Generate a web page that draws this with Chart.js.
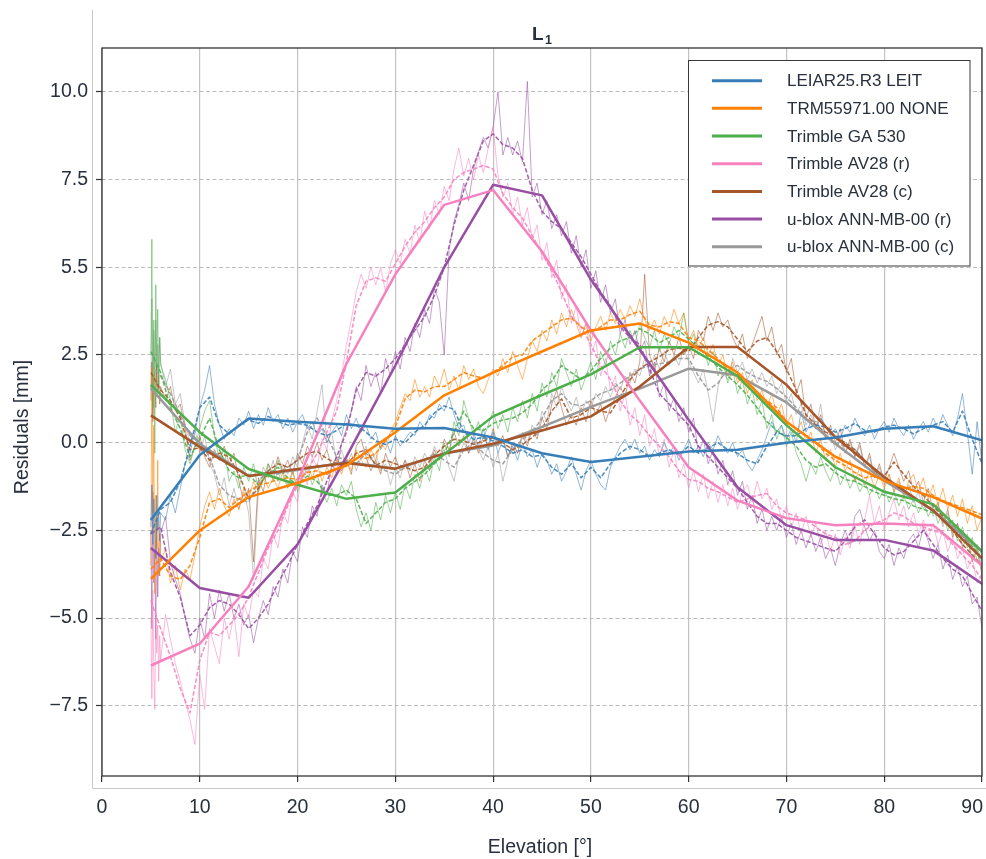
<!DOCTYPE html>
<html>
<head>
<meta charset="utf-8">
<script src="https://cdn.jsdelivr.net/npm/chart.js@4.4.1/dist/chart.umd.min.js"></script>
<style>
  html, body { margin: 0; padding: 0; background: #fff; }
</style>
</head>
<body>
<canvas id="chart" width="986" height="859"></canvas>
<script>
// ---- values (mm vs elevation in deg) ----
const antennaNames = [
  'LEIAR25.R3 LEIT', 'TRM55971.00 NONE', 'Trimble GA 530', 'Trimble AV28 (r)',
  'Trimble AV28 (c)', 'u-blox ANN-MB-00 (r)', 'u-blox ANN-MB-00 (c)'
];
const antennaColors = ['#377eb8', '#ff7f00', '#4daf4a', '#f781bf', '#a65628', '#984ea3', '#999999'];

const xTicks = [0, 10, 20, 30, 40, 50, 60, 70, 80, 90];
const yTicks = [-7.5, -5, -2.5, 0, 2.5, 5, 7.5, 10];
const yTickText = ['\u22127.5', '\u22125.0', '\u22122.5', '0.0', '2.5', '5.5', '7.5', '10.0'];

// thick lines: fit at 5 deg nodes
const fitElev = [5, 10, 15, 20, 25, 30, 35, 40, 45, 50, 55, 60, 65, 70, 75, 80, 85, 90];
const leiarFit  = [-2.2, -0.35, 0.69, 0.6, 0.52, 0.4, 0.42, 0.15, -0.3, -0.55, -0.4, -0.25, -0.2, 0.0, 0.15, 0.4, 0.47, 0.07];
const trmFit    = [-3.88, -2.5, -1.55, -1.15, -0.65, 0.3, 1.35, 2.0, 2.6, 3.2, 3.4, 2.85, 2.0, 0.6, -0.4, -1.08, -1.55, -2.16];
const ga530Fit  = [1.65, 0.3, -0.75, -1.2, -1.6, -1.42, -0.33, 0.75, 1.36, 1.95, 2.72, 2.72, 1.9, 0.5, -0.7, -1.4, -1.75, -3.1];
const av28rFit  = [-6.35, -5.73, -4.1, -1.1, 2.25, 4.8, 6.78, 7.2, 5.45, 3.2, 1.2, -0.7, -1.65, -2.15, -2.35, -2.3, -2.35, -3.5];
const av28cFit  = [0.78, -0.12, -0.95, -0.75, -0.58, -0.74, -0.31, -0.03, 0.35, 0.75, 1.6, 2.73, 2.73, 1.65, 0.16, -0.98, -1.93, -3.3];
const annrFit   = [-3.0, -4.14, -4.42, -2.9, -0.4, 2.2, 5.0, 7.35, 7.05, 4.65, 2.65, 0.65, -1.27, -2.35, -2.77, -2.77, -3.07, -4.02];
const anncFit   = [1.55, -0.03, -0.95, -0.78, -0.55, -0.74, -0.31, -0.08, 0.45, 1.02, 1.54, 2.11, 1.92, 1.15, -0.03, -1.08, -1.93, -3.1];

// dashed lines: smoothed, 1 deg steps from 5 to 90
const smoothElev = [];
for (let e = 5; e <= 90; e++) smoothElev.push(e);
const leiarSmooth = [
  -2.6, -1.9, -1.7, -1.1, -0.1, 1.0, 1.3, 0.5, 0.25, 0.5,
  0.65, 0.55, 0.75, 0.6, 0.5, 0.55, 0.5, 0.3, 0.2, 0.35,
  0.55, 0.5, 0.3, 0.05, -0.05, 0.1, 0.0, 0.3, 0.5, 0.85,
  1.05, 0.95, 0.3, 0.1, 0.15, 0.05, -0.1, -0.3, -0.2, -0.4,
  -0.35, -0.7, -0.9, -0.6, -1.0, -0.7, -1.0, -0.6, -0.3, -0.1,
  -0.2, -0.4, -0.3, -0.2, -0.35, -0.1, -0.3, -0.15, 0.0, -0.2,
  -0.3, -0.5, -0.6, -0.1, 0.3, 0.2, 0.2, 0.4, 0.5, 0.45,
  0.3, 0.4, 0.55, 0.35, 0.3, 0.45, 0.5, 0.4, 0.25, 0.4,
  0.5, 0.6, 0.3, 0.9, 0.1, -0.6
];
const trmSmooth = [
  -3.6, -3.3, -3.8, -3.9, -3.5, -2.7, -1.7, -1.6, -1.85, -1.6,
  -1.4, -1.2, -1.15, -1.05, -1.0, -1.05, -0.85, -0.8, -0.9, -0.75,
  -0.6, -0.35, -0.45, -0.3, 0.05, 0.45, 1.25, 1.5, 1.45, 1.6,
  1.6, 1.8, 2.0, 1.9, 1.85, 2.0, 2.2, 2.45, 2.5, 2.9,
  3.1, 3.3, 3.5, 3.55, 3.3, 3.15, 3.3, 3.5, 3.5, 3.65,
  3.75, 3.35, 3.3, 3.45, 3.4, 3.0, 2.9, 2.65, 2.4, 2.1,
  1.85, 1.6, 1.35, 1.2, 1.0, 0.6, 0.4, 0.2, 0.0, -0.3,
  -0.5, -0.65, -0.85, -1.0, -0.95, -1.05, -1.2, -1.3, -1.25, -1.3,
  -1.5, -1.65, -1.75, -1.85, -1.95, -2.05
];
const ga530Smooth = [
  2.6, 2.0, 1.0, 0.4, -0.4, 0.1, 0.7, -0.2, -0.8, -1.0,
  -0.9, -1.2, -0.9, -0.7, -1.0, -1.2, -0.95, -1.1, -1.5, -1.5,
  -1.35, -1.6, -2.3, -2.0, -1.7, -1.6, -1.3, -1.1, -0.9, -0.6,
  -0.3, 0.3, 0.9, 0.4, 0.35, 0.55, 0.65, 0.7, 0.85, 1.1,
  1.5, 1.75, 2.2, 2.0, 1.8, 2.05, 2.4, 2.7, 2.9, 3.0,
  3.25, 3.1, 2.85, 3.0, 3.2, 2.95, 2.7, 2.45, 2.15, 1.9,
  1.65, 1.35, 1.0, 0.6, 0.35, 0.15, -0.1, -0.5, -0.7, -0.6,
  -0.85, -1.05, -1.1, -1.25, -1.4, -1.5, -1.6, -1.65, -1.8, -1.9,
  -2.0, -2.15, -2.35, -2.65, -2.95, -3.3
];
const av28rSmooth = [
  -4.5, -5.3, -6.1, -7.0, -7.7, -6.2, -5.4, -5.5, -5.2, -4.9,
  -4.4, -3.7, -3.0, -2.5, -1.8, -1.2, -0.8, -0.3, 0.3, 0.9,
  2.3, 3.9, 4.6, 4.7, 4.6, 5.1, 5.6, 6.0, 6.3, 6.7,
  7.0, 7.5, 7.7, 7.8, 7.9, 7.8, 7.1, 6.7, 6.4, 5.9,
  5.4, 4.9, 4.3, 3.6, 3.3, 2.8, 2.2, 1.8, 1.2, 0.8,
  0.55, 0.2, -0.1, -0.4, -0.8, -1.05, -1.1, -1.3, -1.4, -1.55,
  -1.7, -1.6, -1.5, -1.45, -1.8, -2.0, -2.1, -2.2, -2.4, -2.6,
  -2.7, -2.9, -2.8, -2.5, -2.3, -2.2, -2.0, -2.1, -2.3, -2.4,
  -2.5, -2.6, -2.9, -3.2, -3.5, -3.9
];
const av28cSmooth = [
  2.0, 1.5, 1.2, 0.7, -0.2, -0.15, -0.5, -0.3, -0.4, -0.9,
  -1.6, -1.3, -0.8, -0.6, -0.7, -0.5, -0.3, -0.25, -0.45, -0.6,
  -0.65, -0.3, -0.2, -0.65, -0.5, -0.6, -0.7, -0.8, -0.7, -0.35,
  -0.1, 0.1, 0.05, -0.05, 0.05, 0.15, 0.0, -0.2, -0.05, 0.15,
  0.4, 0.9, 1.25, 0.7, 0.8, 1.0, 0.9, 0.85, 1.3, 1.8,
  2.1, 2.3, 2.45, 2.65, 2.7, 2.6, 3.0, 3.35, 3.45, 3.3,
  2.95, 2.6, 2.9, 3.0, 2.6, 2.1, 1.5, 0.8, 0.5, 0.3,
  0.2, 0.0, -0.2, -0.5, -0.8, -0.95, -0.55, -0.9, -1.25, -1.5,
  -1.8, -2.1, -2.5, -2.9, -3.2, -3.5
];
const annrSmooth = [
  -2.6, -2.4, -3.7, -4.4, -5.5, -5.2, -4.7, -4.5, -4.6, -4.9,
  -5.3, -5.0, -4.6, -4.0, -3.5, -2.9, -2.3, -1.8, -1.1, -0.4,
  0.3, 1.5, 2.0, 1.9, 2.1, 2.4, 2.8, 3.2, 3.6, 4.2,
  5.0, 6.2, 7.2, 7.9, 8.6, 8.8, 8.5, 8.4, 8.1, 7.2,
  6.6, 6.3, 6.1, 5.7, 5.3, 4.8, 4.3, 3.9, 3.3, 3.0,
  2.8, 2.1, 1.4, 1.1, 0.8, 0.5, -0.1, -0.4, -0.7, -1.0,
  -1.3, -1.7, -2.1, -2.3, -2.3, -2.5, -2.7, -2.8, -2.9, -3.0,
  -3.1, -2.8, -2.4, -2.2, -2.6, -3.0, -3.2, -3.1, -2.8, -2.5,
  -2.9, -3.3, -3.6, -3.8, -4.3, -4.8
];
const anncSmooth = [
  2.2, 1.9, 1.4, 0.8, 0.2, 0.0, -0.4, -1.2, -1.5, -1.6,
  -1.7, -1.1, -0.8, -0.9, -0.7, -0.5, 0.3, 0.7, 0.2, -0.4,
  -0.5, -0.6, -0.3, -0.6, -0.8, -0.9, -0.7, -0.6, -0.5, -0.3,
  -0.5, -0.7, -0.2, 0.0, -0.3, -0.5, -0.6, -0.2, 0.1, 0.3,
  0.7, 1.2, 1.4, 1.1, 1.05, 1.2, 1.4, 1.5, 1.7, 1.9,
  2.1, 2.2, 2.25, 2.3, 2.4, 2.4, 1.9, 1.5, 1.7, 2.1,
  2.2, 2.0, 1.85, 1.75, 1.55, 1.3, 1.0, 0.65, 0.6, 0.2,
  0.0, -0.1, -0.2, -0.5, -0.8, -1.0, -1.2, -1.35, -1.55, -1.75,
  -1.95, -2.2, -2.45, -2.7, -3.0, -3.3
];

// thin lines: raw residuals, 0.1 deg steps 5.0-6.0, then 0.5 deg steps to 90
const rawElev = [];
for (let i = 0; i <= 10; i++) rawElev.push(5 + i / 10);
for (let e = 6.5; e <= 90; e += 0.5) rawElev.push(e);
const leiarRaw = [
  -2.4, -1.2, -2.9, -1.6, -2.2, -3.3, -1.5, -2.5, -1.9, -2.8, -2.0,
  -2.2, -1.5, -2.0, -1.3, -0.6, -0.3, 0.3, 1.0,
  1.5, 2.2, 1.1, 0.5, 0.1, 0.4, 0.2, 0.7, 0.5, 0.9,
  0.4, 0.8, 0.5, 1.0, 0.6, 0.8, 0.4, 0.7, 0.3, 0.6,
  0.8, 0.4, 0.6, 0.2, 0.4, 0.0, 0.3, 0.5, 0.2, 0.8,
  0.4, 0.7, 0.3, 0.5, 0.1, 0.3, -0.2, 0.1, -0.3, 0.2,
  -0.1, 0.1, 0.3, 0.2, 0.6, 0.4, 0.8, 0.7, 1.1, 0.9,
  1.3, 0.8, 0.4, 0.5, 0.0, 0.3, -0.1, 0.4, -0.2, 0.3,
  -0.3, 0.1, -0.4, -0.1, -0.5, 0.0, -0.4, -0.2, -0.7, -0.3,
  -0.5, -0.9, -0.6, -1.1, -0.8, -0.4, -0.9, -1.35, -0.8, -0.5,
  -0.9, -1.2, -1.35, -0.7, -0.4, -0.1, 0.1, -0.2, 0.1, -0.3,
  -0.1, -0.5, -0.2, -0.4, 0.0, -0.3, -0.1, -0.5, -0.2, 0.1,
  -0.3, -0.1, -0.4, 0.0, -0.2, 0.2, -0.1, -0.3, 0.0, -0.4,
  -0.2, -0.6, -0.8, -0.5, -0.2, 0.2, 0.6, 0.3, 0.5, 0.1,
  0.4, 0.0, 0.9, 0.3, 0.6, 0.4, 0.7, 0.5, 0.2, 0.4,
  0.1, 0.5, 0.3, 0.7, 0.4, 0.2, 0.5, 0.1, 0.4, 0.6,
  0.3, 0.7, 0.4, 0.2, 0.5, 0.1, 0.4, 0.6, 0.3, 0.7,
  0.4, 0.8, 0.5, 0.2, 0.7, 1.4, 0.3, -0.9, 0.6, -0.6
];
const trmRaw = [
  -3.5, 2.2, -2.0, 0.5, -4.3, -1.5, -3.0, -0.5, -3.8, -2.6, -3.4,
  -3.0, -4.0, -3.5, -4.2, -3.6, -3.9, -3.2, -2.4,
  -1.8, -1.4, -1.9, -1.3, -1.8, -2.1, -1.6, -1.9, -1.3, -1.6,
  -1.1, -1.4, -0.9, -1.3, -1.0, -1.3, -0.8, -1.2, -0.8, -1.3,
  -0.9, -0.6, -1.0, -0.6, -1.1, -0.7, -1.0, -0.5, -0.9, -0.4,
  -0.8, -0.2, -0.5, -0.7, -0.2, -0.5, 0.0, -0.2, 0.3, 0.6,
  1.0, 1.4, 1.2, 1.8, 1.3, 1.6, 1.3, 1.9, 1.6, 2.1,
  1.5, 1.9, 1.5, 2.2, 1.8, 2.1, 1.6, 1.4, 1.8, 2.1,
  1.9, 2.4, 2.0, 2.6, 2.2, 1.8, 2.4, 2.9, 2.6, 3.2,
  2.9, 3.5, 3.1, 3.7, 3.3, 3.8, 3.4, 3.0, 3.4, 2.9,
  3.3, 3.6, 3.2, 3.7, 3.4, 3.8, 3.5, 3.9, 3.6, 4.1,
  3.5, 3.2, 3.5, 3.1, 3.6, 3.3, 3.8, 3.4, 3.7, 2.9,
  3.2, 2.7, 3.0, 2.5, 2.8, 2.2, 2.5, 1.9, 2.3, 1.7,
  2.0, 1.4, 1.8, 1.2, 1.5, 1.0, 1.4, 0.8, 1.1, 0.5,
  0.8, 0.2, 0.6, 0.0, 0.3, -0.3, 0.1, -0.5, -0.2, -0.7,
  -0.3, -0.8, -0.5, -1.1, -0.7, -1.2, -0.8, -1.3, -0.9, -1.3,
  -0.9, -1.4, -1.0, -1.6, -1.1, -0.9, -1.4, -1.0, -1.6, -1.2,
  -1.8, -1.3, -1.9, -1.5, -2.1, -1.6, -2.3, -1.8, -2.5, -2.1
];
const ga530Raw = [
  2.5, 5.8, 1.0, 3.5, -0.3, 4.5, 2.0, 3.8, 1.5, 3.0, 2.2,
  1.8, 1.2, 0.3, 0.8, -0.2, -0.6, -0.1, 0.4,
  0.9, 1.2, 0.2, -0.5, -0.2, -1.1, -0.8, -1.3, -0.7, -1.1,
  -0.6, -1.4, -1.0, -0.6, -1.1, -0.5, -0.9, -1.3, -0.8, -1.4,
  -1.0, -0.7, -1.2, -0.9, -1.4, -1.7, -1.3, -1.8, -1.2, -1.5,
  -1.1, -1.9, -2.4, -2.0, -2.5, -1.7, -2.2, -1.5, -2.0, -1.4,
  -1.9, -1.2, -1.6, -0.9, -1.3, -0.7, -1.1, -0.4, -0.8, 0.0,
  -0.4, 0.6, 0.2, 1.2, 0.7, 0.2, 0.6, 0.1, 0.5, 0.9,
  0.4, 0.8, 0.3, 1.0, 0.6, 1.2, 0.7, 1.4, 0.9, 1.7,
  1.3, 2.0, 1.6, 2.4, 2.0, 1.6, 2.1, 1.5, 1.9, 2.3,
  1.8, 2.6, 2.2, 2.9, 2.5, 3.1, 2.7, 3.2, 2.8, 3.4,
  3.0, 2.7, 3.2, 2.6, 3.1, 2.8, 3.3, 3.0, 3.7, 2.8,
  3.1, 2.5, 2.8, 2.2, 2.6, 1.9, 2.3, 1.7, 2.1, 1.4,
  1.8, 1.1, 1.5, 0.8, 1.2, 0.4, 0.8, 0.1, 0.5, -0.1,
  0.3, -0.3, -0.6, -1.1, -0.6, -0.9, -0.4, -0.8, -1.1, -0.7,
  -1.2, -0.9, -1.3, -1.0, -1.4, -1.1, -1.5, -1.2, -1.6, -1.3,
  -1.7, -1.4, -1.8, -1.5, -1.9, -1.6, -2.0, -1.7, -2.1, -1.8,
  -2.3, -2.0, -2.5, -2.2, -2.8, -2.4, -3.0, -2.7, -3.4, -3.0
];
const av28rRaw = [
  -5.0, -7.3, -4.2, -6.6, -7.6, -4.8, -6.0, -5.2, -6.8, -5.5, -6.2,
  -4.9, -5.6, -6.3, -6.8, -7.4, -7.9, -8.6, -6.6,
  -7.6, -5.3, -5.8, -6.3, -5.0, -5.6, -4.9, -6.1, -4.6, -5.0,
  -4.2, -4.4, -3.3, -3.6, -2.6, -3.0, -2.0, -2.3, -1.4, -1.7,
  -0.8, -1.2, -0.4, -0.7, 0.1, -0.2, 0.6, 1.2, 1.9, 2.8,
  3.5, 4.3, 4.8, 4.4, 5.0, 4.5, 5.0, 4.3, 5.1, 5.5,
  5.1, 5.8, 5.4, 6.2, 5.7, 6.6, 6.1, 6.9, 6.5, 7.3,
  6.9, 7.8, 8.4, 7.6, 8.1, 7.5, 8.2, 7.7, 8.4, 9.0,
  7.6, 7.0, 7.4, 6.5, 7.0, 6.2, 6.7, 5.8, 6.2, 5.2,
  5.7, 4.7, 5.2, 4.1, 4.5, 3.4, 3.9, 3.0, 3.4, 2.5,
  2.9, 1.9, 2.4, 1.5, 1.9, 0.9, 1.4, 0.5, 1.0, 0.2,
  0.8, -0.1, 0.4, -0.4, 0.1, -0.7, -0.2, -1.0, -0.6, -1.3,
  -0.8, -1.4, -0.9, -1.6, -1.1, -1.7, -1.2, -1.8, -1.3, -1.9,
  -1.4, -1.2, -1.7, -1.1, -1.6, -1.3, -1.9, -1.6, -2.2, -1.8,
  -2.4, -2.0, -2.6, -2.1, -2.7, -2.3, -2.9, -2.5, -3.1, -2.6,
  -3.2, -2.7, -3.0, -2.4, -2.9, -2.2, -1.5, -2.3, -1.8, -2.5,
  -2.0, -1.6, -2.2, -1.8, -2.4, -2.0, -2.6, -2.2, -2.7, -2.3,
  -2.9, -2.5, -3.1, -2.7, -3.3, -3.0, -3.6, -3.3, -4.0, -3.7
];
const av28cRaw = [
  1.2, 2.3, 0.6, 1.8, 2.0, 1.0, 2.2, 1.4, 1.9, 1.1, 1.6,
  1.2, 1.6, 0.9, 1.1, 0.4, -0.5, -0.1, 0.2,
  -0.4, -0.7, -0.2, -0.5, -0.1, -0.6, -0.3, -1.1, -1.7, -1.3,
  -3.4, -1.0, -1.4, -0.6, -0.9, -0.4, -0.8, -0.5, -0.9, -0.3,
  -0.6, -0.1, -0.4, 0.0, -0.5, -0.2, -0.7, -0.4, -0.8, -0.5,
  -0.9, -0.1, 0.1, -0.4, -0.8, -0.5, -0.9, -0.3, -0.7, -0.4,
  -0.8, -0.5, -1.0, -0.6, -1.1, -0.5, -0.8, -0.2, -0.5, 0.1,
  -0.2, 0.3, -0.1, 0.2, -0.3, 0.1, -0.3, 0.2, -0.1, 0.4,
  -0.1, 0.2, -0.4, 0.0, -0.3, 0.2, -0.1, 0.4, 0.1, 0.7,
  0.4, 1.1, 1.5, 1.0, 0.5, 0.8, 0.5, 1.0, 0.6, 1.2,
  0.8, 1.1, 0.6, 1.0, 1.3, 1.6, 1.3, 2.0, 1.7, 2.3,
  4.8, 2.5, 2.1, 2.7, 2.3, 2.9, 2.5, 3.0, 2.5, 2.8,
  2.4, 3.2, 2.9, 3.6, 3.2, 3.7, 3.3, 3.5, 3.0, 2.7,
  3.1, 2.4, 2.8, 3.2, 3.6, 2.9, 3.3, 2.5, 2.8, 2.0,
  2.4, 1.4, 1.8, 0.7, 1.1, 0.4, 0.8, 0.1, 0.5, 0.0,
  0.4, -0.3, 0.1, -0.4, 0.0, -0.7, -0.3, -1.0, -0.6, -1.1,
  -0.7, -0.3, -0.7, -1.1, -0.8, -1.4, -1.1, -1.7, -1.3, -2.0,
  -1.7, -2.3, -1.9, -2.7, -2.3, -3.0, -2.7, -3.4, -3.0, -3.8
];
const annrRaw = [
  -2.5, -5.3, -1.4, -4.0, -3.1, -5.6, -2.2, -4.4, -3.0, -3.8, -2.6,
  -2.1, -3.4, -3.9, -4.3, -5.0, -5.6, -6.0, -5.0,
  -5.6, -4.3, -5.0, -4.2, -4.8, -4.3, -5.0, -4.6, -5.2, -4.9,
  -5.7, -5.0, -4.5, -4.9, -4.1, -4.4, -3.6, -4.0, -3.1, -3.4,
  -2.4, -2.7, -1.8, -2.1, -1.2, -1.5, -0.6, -0.9, 0.0, 0.4,
  0.9, 1.6, 1.2, 2.2, 1.6, 2.0, 1.4, 2.4, 1.9, 2.6,
  2.1, 3.0, 2.6, 3.4, 3.0, 3.8, 3.4, 4.4, 4.0, 2.5,
  5.5, 6.3, 6.8, 7.4, 6.9, 7.8, 8.3, 8.7, 8.4, 9.0,
  10.0, 8.2, 8.7, 8.2, 8.6, 8.0, 10.3, 7.0, 7.4, 6.5,
  6.9, 6.1, 6.5, 5.9, 6.3, 5.4, 5.9, 5.0, 5.5, 4.4,
  4.9, 4.0, 4.5, 3.7, 4.1, 3.1, 3.5, 2.8, 3.2, 2.6,
  2.9, 1.9, 2.3, 1.3, 1.7, 0.9, 1.3, 0.6, 1.0, 0.3,
  0.7, -0.3, 0.1, -0.6, -0.2, -0.9, -0.5, -1.2, -0.8, -1.5,
  -1.1, -1.9, -1.5, -2.3, -1.9, -2.5, -2.1, -2.5, -2.1, -2.7,
  -2.3, -2.9, -2.5, -3.0, -2.6, -3.1, -2.7, -3.3, -3.0, -3.5,
  -2.9, -2.5, -2.9, -2.1, -1.9, -2.4, -2.8, -2.5, -3.1, -3.3,
  -2.9, -3.5, -3.0, -3.3, -2.8, -2.6, -3.0, -2.4, -2.8, -3.3,
  -2.9, -3.6, -3.2, -3.9, -3.5, -4.1, -3.8, -4.6, -4.4, -5.3
];
const anncRaw = [
  1.5, 4.1, 0.8, 3.2, 2.0, 3.5, 1.6, 2.8, 1.9, 3.0, 2.3,
  1.6, 2.1, 1.1, 1.4, 0.5, 0.0, 0.4, -0.3,
  0.2, -0.6, -0.9, -1.5, -1.0, -1.8, -1.3, -1.9, -1.4, -2.0,
  -3.9, -1.3, -0.7, -1.0, -0.5, -1.1, -0.6, -0.9, -0.4, -0.7,
  0.0, 0.5, 0.1, 0.9, 1.65, 0.0, 0.3, -0.6, -0.2, -0.7,
  -0.3, -0.8, -0.4, -0.1, -0.5, -0.3, -0.8, -0.6, -1.2, -0.7,
  -1.0, -0.5, -0.8, -0.4, -0.7, -0.3, -0.6, -0.1, -0.4, -0.2,
  -0.7, -1.1, -0.4, 0.0, -0.3, 0.2, -0.2, -0.5, -0.1, -0.7,
  -0.3, -1.1, -0.5, 0.0, -0.3, 0.3, 0.0, 0.5, 0.2, 0.9,
  0.6, 1.4, 1.0, 1.6, 1.2, 0.9, 1.3, 0.8, 1.2, 1.0,
  1.4, 1.2, 1.6, 1.3, 1.7, 1.5, 1.9, 1.7, 2.1, 1.9,
  2.4, 2.0, 2.5, 2.1, 2.6, 2.2, 2.5, 2.2, 2.7, 2.3,
  2.0, 1.7, 2.1, 1.4, 0.6, 1.6, 2.0, 1.8, 2.4, 2.0,
  2.3, 1.8, 2.1, 1.7, 2.0, 1.6, 1.9, 1.4, 1.7, 1.1,
  1.4, 0.8, 1.1, 0.5, 0.8, 0.4, 1.1, 0.1, 0.3, -0.2,
  0.1, -0.3, 0.0, -0.4, -0.1, -0.7, -0.4, -1.0, -0.7, -1.2,
  -0.9, -1.4, -1.1, -1.5, -1.2, -1.7, -1.4, -1.9, -1.6, -2.1,
  -1.8, -2.4, -2.0, -2.6, -2.3, -2.9, -2.6, -3.3, -2.9, -3.6
];

// ---- chart ----
const family = "'Liberation Sans', Arial, Helvetica, sans-serif";
const ink = '#27303c';

const series = [
  { fit: leiarFit, smooth: leiarSmooth, raw: leiarRaw },
  { fit: trmFit, smooth: trmSmooth, raw: trmRaw },
  { fit: ga530Fit, smooth: ga530Smooth, raw: ga530Raw },
  { fit: av28rFit, smooth: av28rSmooth, raw: av28rRaw },
  { fit: av28cFit, smooth: av28cSmooth, raw: av28cRaw },
  { fit: annrFit, smooth: annrSmooth, raw: annrRaw },
  { fit: anncFit, smooth: anncSmooth, raw: anncRaw }
];

function zip(xs, ys, name) {
  if (xs.length !== ys.length) console.error(name + ': ' + ys.length + ' values for ' + xs.length + ' elevations');
  const n = Math.min(xs.length, ys.length);
  const out = [];
  for (let i = 0; i < n; i++) out.push({ x: xs[i], y: ys[i] });
  return out;
}

function withAlpha(hex, a) {
  const r = parseInt(hex.slice(1, 3), 16), g = parseInt(hex.slice(3, 5), 16), b = parseInt(hex.slice(5, 7), 16);
  return `rgba(${r},${g},${b},${a})`;
}

const line = { pointRadius: 0, fill: false, tension: 0, borderJoinStyle: 'round' };
const fitSets = series.map((s, i) => ({
  ...line, label: antennaNames[i], data: zip(fitElev, s.fit, antennaNames[i] + ' fit'),
  borderColor: antennaColors[i], borderWidth: 2.5
}));
const smoothSets = series.map((s, i) => ({
  ...line, label: antennaNames[i] + ' smooth', data: zip(smoothElev, s.smooth, antennaNames[i] + ' smooth'),
  borderColor: withAlpha(antennaColors[i], 0.9), borderWidth: 1.5, borderDash: [4.5, 2]
}));
const rawSets = series.map((s, i) => ({
  ...line, label: antennaNames[i] + ' raw', data: zip(rawElev, s.raw, antennaNames[i] + ' raw'),
  borderColor: withAlpha(antennaColors[i], 0.55), borderWidth: 1
}));

const decor = {
  id: 'decor',
  beforeDraw(chart) {
    const ctx = chart.ctx;
    ctx.save();
    ctx.fillStyle = '#fff';
    ctx.fillRect(0, 0, chart.width, chart.height);
    ctx.strokeStyle = '#c8c8c8';
    ctx.lineWidth = 1;
    ctx.beginPath();
    ctx.moveTo(92.5, 10);
    ctx.lineTo(92.5, 788.5);
    ctx.lineTo(chart.width, 788.5);
    ctx.stroke();
    ctx.restore();
  },
  afterDraw(chart) {
    const { ctx, chartArea: a } = chart;
    const xs = chart.scales.x;
    ctx.save();
    // frame of the axes
    ctx.strokeStyle = '#333';
    ctx.lineWidth = 1.3;
    ctx.strokeRect(a.left, a.top, a.right - a.left, a.bottom - a.top);

    // x tick labels (last one kept inside the figure)
    ctx.fillStyle = ink;
    ctx.font = `19.5px ${family}`;
    ctx.textAlign = 'center';
    ctx.textBaseline = 'middle';
    xTicks.forEach(v => {
      const t = String(v);
      const w = ctx.measureText(t).width;
      const px = Math.min(xs.getPixelForValue(v), chart.width - 3 - w / 2);
      ctx.fillText(t, px, 808);
    });

    // axis titles
    ctx.fillText('Elevation [°]', 540, 848);
    ctx.save();
    ctx.translate(23, 427);
    ctx.rotate(-Math.PI / 2);
    ctx.fillText('Residuals [mm]', 0, 0);
    ctx.restore();

    // title L1
    ctx.textAlign = 'left';
    ctx.textBaseline = 'alphabetic';
    ctx.font = `bold 19px ${family}`;
    ctx.fillText('L', 532, 40);
    ctx.font = `bold 12.5px ${family}`;
    ctx.fillText('1', 545, 44);

    // legend
    const bx = 688.5, by = 60.5, bw = 281.5, bh = 205.5;
    ctx.fillStyle = '#fff';
    ctx.fillRect(bx, by, bw, bh);
    ctx.strokeStyle = '#3a3a3a';
    ctx.lineWidth = 1;
    ctx.strokeRect(bx, by, bw, bh);
    ctx.font = `17px ${family}`;
    ctx.textBaseline = 'middle';
    antennaNames.forEach((name, i) => {
      const y = 80.7 + i * 27.67;
      ctx.strokeStyle = antennaColors[i];
      ctx.lineWidth = 3;
      ctx.beginPath();
      ctx.moveTo(712, y);
      ctx.lineTo(762, y);
      ctx.stroke();
      ctx.fillStyle = ink;
      ctx.fillText(name, 787, y + 1);
    });
    ctx.restore();
  }
};

new Chart(document.getElementById('chart'), {
  type: 'line',
  data: { datasets: [...fitSets, ...smoothSets, ...rawSets] },
  options: {
    responsive: false,
    animation: false,
    devicePixelRatio: 1,
    parsing: false,
    normalized: true,
    layout: { padding: { left: 0, right: 4, top: 48, bottom: 0 } },
    plugins: { legend: { display: false }, tooltip: { enabled: false } },
    scales: {
      x: {
        type: 'linear', min: 0, max: 90,
        afterBuildTicks: s => { s.ticks = xTicks.map(v => ({ value: v })); },
        ticks: { display: false },
        grid: { color: '#c2c2c2', lineWidth: 1.2, drawTicks: true, tickLength: 6, tickColor: '#333', tickWidth: 1.2 },
        border: { display: false },
        afterFit: s => { s.height = 83; }
      },
      y: {
        type: 'linear', min: -9.5, max: 11.25,
        afterBuildTicks: s => { s.ticks = yTicks.map(v => ({ value: v })); },
        ticks: {
          color: ink, padding: 8,
          font: { family: family, size: 19.5 },
          callback: (v, i) => yTickText[i]
        },
        grid: { color: '#bdbdbd', lineWidth: 1, drawTicks: true, tickLength: 6, tickColor: '#333', tickWidth: 1.2 },
        border: { display: false, dash: [4, 2.5] },
        afterFit: s => { s.width = 102; }
      }
    }
  },
  plugins: [decor]
});
</script>
</body>
</html>
